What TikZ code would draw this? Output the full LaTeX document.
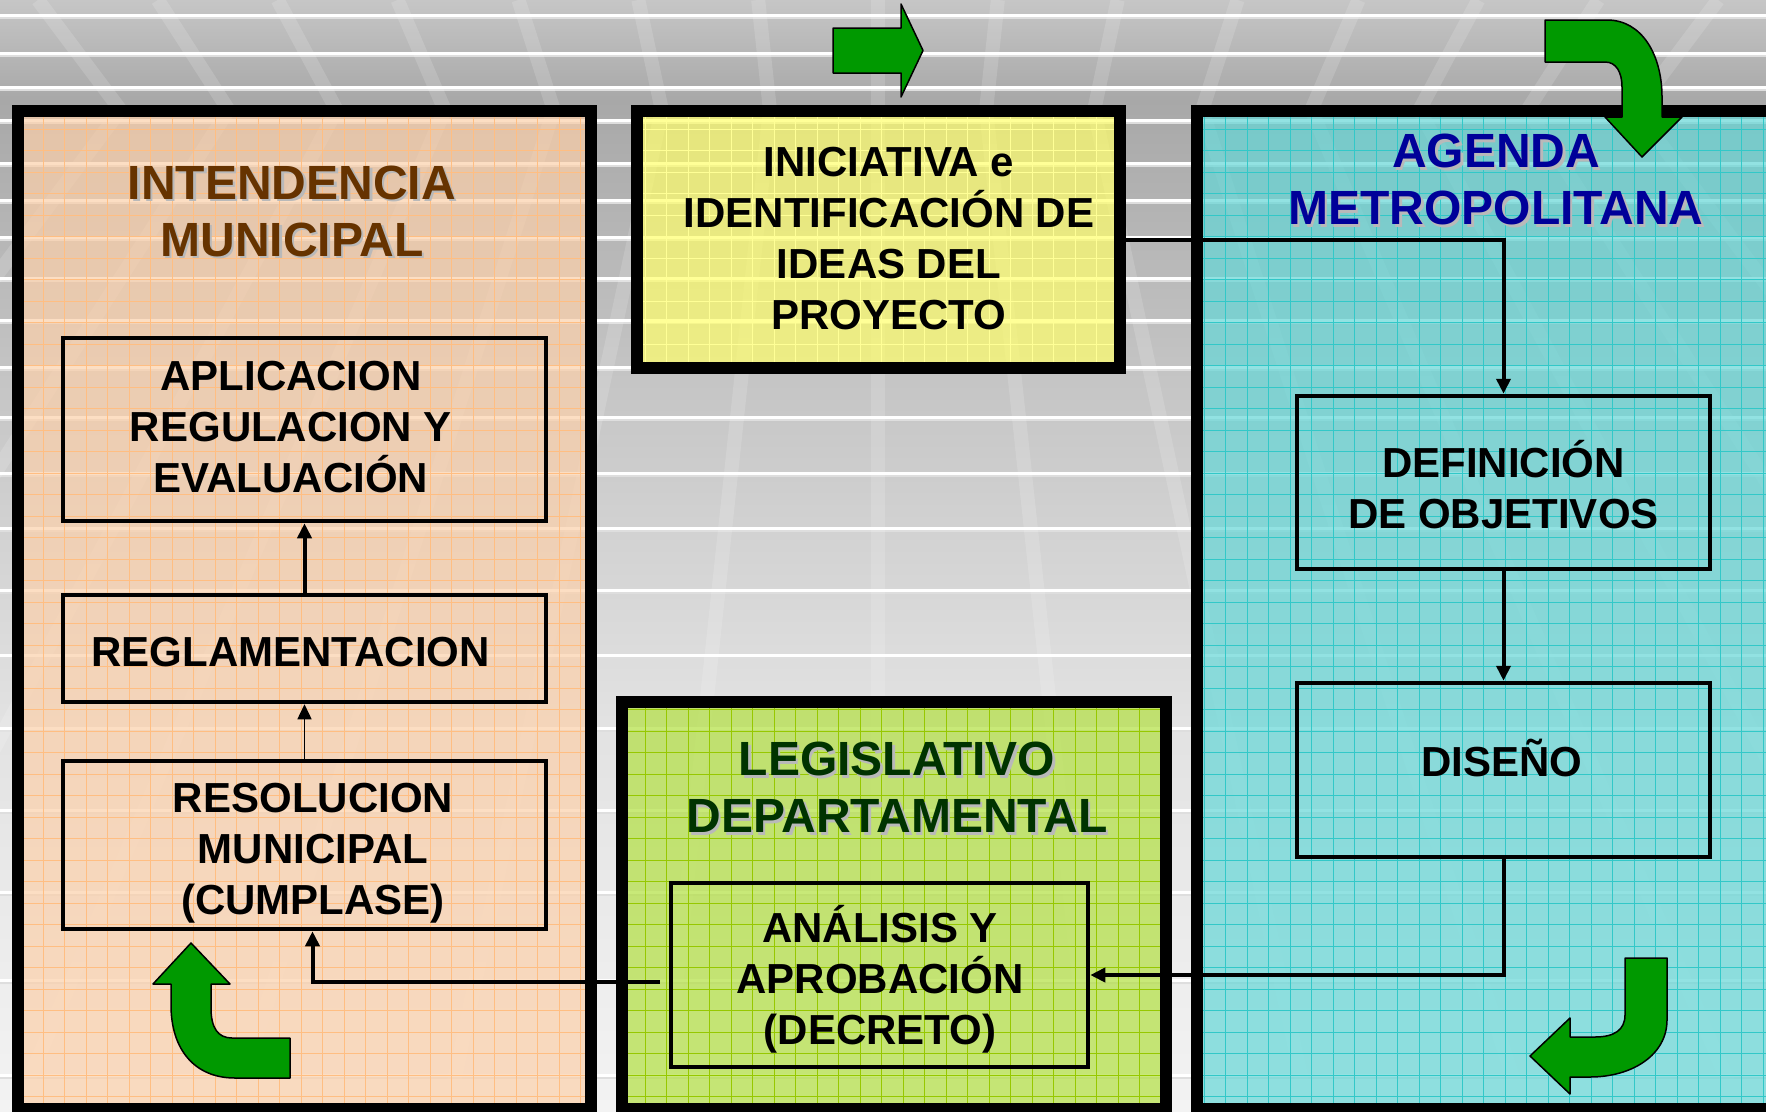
\documentclass[tikz,border=0pt]{standalone}
\usepackage{fontspec}
\setmainfont{Liberation Sans}
\usetikzlibrary{arrows.meta}
\definecolor{bgA}{RGB}{198,198,198}
\definecolor{bgB}{RGB}{168,168,168}
\definecolor{bgC}{RGB}{196,196,196}
\definecolor{bgD}{RGB}{226,226,226}
\definecolor{bgE}{RGB}{243,243,243}
\definecolor{stripeedge}{RGB}{222,222,222}
\definecolor{peachf}{RGB}{252,208,170}
\definecolor{cyanf}{RGB}{100,215,215}
\definecolor{yellowf}{RGB}{255,255,107}
\definecolor{greenf}{RGB}{178,224,64}
\definecolor{gridpeach}{RGB}{255,190,130}
\definecolor{gridcyan}{RGB}{50,200,200}
\definecolor{gridyellow}{RGB}{255,255,150}
\definecolor{gridgreen}{RGB}{150,200,0}
\definecolor{arrowgreen}{RGB}{0,153,0}
\definecolor{titlebrown}{RGB}{102,51,0}
\definecolor{titleblue}{RGB}{0,0,153}
\definecolor{titlegreen}{RGB}{0,51,0}
\begin{document}
\begin{tikzpicture}[x=1pt,y=-1pt,
  cont/.style={inner sep=0pt, outer sep=0pt, fill opacity=0.7},
  contborder/.style={draw=black, line width=12pt},
  ibox/.style={draw=black, line width=4.5pt, inner sep=0pt},
  itext/.style={inner sep=0pt, align=center, font=\fontsize{42}{51}\selectfont\bfseries},
  ttext/.style={inner sep=0pt, align=center, font=\fontsize{48}{57}\selectfont\bfseries},
  tshadow/.style={ttext, text=gray!55},
  conn/.style={draw=black, line width=4pt, -{Triangle[length=15pt,width=14pt]}},
  connthin/.style={draw=black, line width=1.5pt, -{Triangle[length=15pt,width=14pt]}},
  bigarrow/.style={fill=arrowgreen, draw=black, line width=1.5pt, line join=round},
  gridl/.style={line width=0.8pt},
]
\useasboundingbox (0,0) rectangle (1766,1111);
\clip (0,0) rectangle (1766,1111);

% background
\shade[top color=bgA, bottom color=bgB] (0,0) rectangle (1766,101);
\shade[top color=bgB, bottom color=bgC] (0,100) rectangle (1766,371);
\shade[top color=bgC, bottom color=bgD] (0,370) rectangle (1766,721);
\shade[top color=bgD, bottom color=bgE] (0,720) rectangle (1766,1111);
\foreach \yy in {15,53,87,120,163,200,237,278,320,367,417,473,528,590,655,728,810,892,980,1075}{
  \draw[stripeedge, line width=5pt] (0,\yy+1.5) -- (1766,\yy+1.5);
  \draw[white, line width=3pt] (0,\yy) -- (1766,\yy);
}
\foreach \s in {-0.75,-0.643,-0.536,-0.429,-0.321,-0.214,-0.107,0,0.107,0.214,0.321,0.429,0.536,0.643,0.75}{
  \draw[white, opacity=0.15, line width=14pt] ({878+\s*1120},0) -- ({878+\s*1010},110) -- ({878+\s*2011},1111);
}

% containers
\node[cont, fill=peachf, minimum width=573pt, minimum height=998pt] (L) at (304.5,610) {};
\begin{scope}
  \clip (L.north west) rectangle (L.south east);
  \draw[gridpeach, gridl, step=21.5pt] (L.north west) grid (L.south east);
\end{scope}
\draw[contborder] (L.north west) rectangle (L.south east);

\node[cont, fill=yellowf, minimum width=483pt, minimum height=257pt] (Y) at (878.5,239.5) {};
\begin{scope}
  \clip (Y.north west) rectangle (Y.south east);
  \draw[gridyellow, gridl, step=21.5pt] (Y.north west) grid (Y.south east);
\end{scope}
\draw[contborder] (Y.north west) rectangle (Y.south east);

\node[cont, fill=greenf, minimum width=544pt, minimum height=407pt] (G) at (894,905.5) {};
\begin{scope}
  \clip (G.north west) rectangle (G.south east);
  \draw[gridgreen, gridl, step=21.5pt] (G.north west) grid (G.south east);
\end{scope}
\draw[contborder] (G.north west) rectangle (G.south east);

\node[cont, fill=cyanf, minimum width=575pt, minimum height=998pt] (C) at (1484.5,610) {};
\begin{scope}
  \clip (C.north west) rectangle (C.south east);
  \draw[gridcyan, gridl, step=21.5pt] (C.north west) grid (C.south east);
\end{scope}
\draw[contborder] (C.north west) rectangle (C.south east);

% titles
\node[tshadow] (intS) at (294.5,213.9) {INTENDENCIA\\MUNICIPAL};
\node[ttext, text=titlebrown] (int) at (292,211.4) {INTENDENCIA\\MUNICIPAL};
\node[tshadow] (ageS) at (1498.5,182.4) {AGENDA\\METROPOLITANA};
\node[ttext, text=titleblue] (age) at (1496,179.9) {AGENDA\\METROPOLITANA};
\node[tshadow] (legS) at (899.5,790.1) {LEGISLATIVO\\DEPARTAMENTAL};
\node[ttext, text=titlegreen] (leg) at (897,787.6) {LEGISLATIVO\\DEPARTAMENTAL};

% inner boxes
\node[ibox, minimum width=483pt, minimum height=183pt] (apl) at (304.5,429.5) {};
\node[ibox, minimum width=483pt, minimum height=107pt] (reg) at (304.5,648.5) {};
\node[ibox, minimum width=483pt, minimum height=168pt] (res) at (304.5,845) {};
\node[ibox, minimum width=413pt, minimum height=173pt] (def) at (1503.5,482.5) {};
\node[ibox, minimum width=413pt, minimum height=174pt] (dis) at (1503.5,770) {};
\node[ibox, minimum width=417pt, minimum height=184pt] (ana) at (879.5,975) {};

% texts
\node[itext] (iniT) at (889,239) {INICIATIVA e\\IDENTIFICACIÓN DE\\IDEAS DEL\\PROYECTO};
\node[itext] (aplT) at (291,427) {APLICACION\\REGULACION Y\\EVALUACIÓN};
\node[itext] (regT) at (290.6,652) {REGLAMENTACION};
\node[itext] (resT) at (313,853.6) {RESOLUCION\\MUNICIPAL\\(CUMPLASE)};
\node[itext] (defT) at (1503.5,484.7) {DEFINICIÓN\\DE OBJETIVOS};
\node[itext] (disT) at (1502,758) {DISEÑO};
\node[itext] (anaT) at (880,979) {ANÁLISIS Y\\APROBACIÓN\\(DECRETO)};

% connectors
\draw[conn] (Y.east) -| (def.north);
\draw[conn] (def.south) -- (dis.north);
\draw[conn] (dis.south) |- (ana.east);
\draw[conn, shorten <=9pt] ([yshift=-7pt]ana.west) -| ([xshift=8pt]res.south);
\draw[connthin] (res.north) -- (reg.south);
\draw[conn] (reg.north) -- (apl.south);

% green block arrows
\path[bigarrow] (833,28) -- (901,28) -- (901,4) -- (923,50.5) -- (901,97) -- (901,73) -- (833,73) -- cycle;
\path[bigarrow] (1545,20) -- (1607,20) .. controls (1642,20) and (1662,55) .. (1662,97) -- (1662,117) -- (1682,117) -- (1642,157) -- (1605,117) -- (1622,117) -- (1622,87) .. controls (1622,72) and (1616,62) .. (1605,62) -- (1545,62) -- cycle;
\path[bigarrow] (191,943) -- (230,984) -- (211,984) -- (211,1008) .. controls (211,1028) and (218,1038) .. (232,1038) -- (290,1038) -- (290,1078) -- (235,1078) .. controls (195,1078) and (171,1050) .. (171,1005) -- (171,984) -- (153,984) -- cycle;
\path[bigarrow] (1625,958) -- (1667,958) -- (1667,1020) .. controls (1667,1055) and (1632,1077) .. (1590,1077) -- (1570,1077) -- (1570,1094) -- (1530,1056) -- (1570,1018) -- (1570,1037) -- (1595,1037) .. controls (1614,1037) and (1625,1030) .. (1625,1015) -- cycle;
\end{tikzpicture}
\end{document}
